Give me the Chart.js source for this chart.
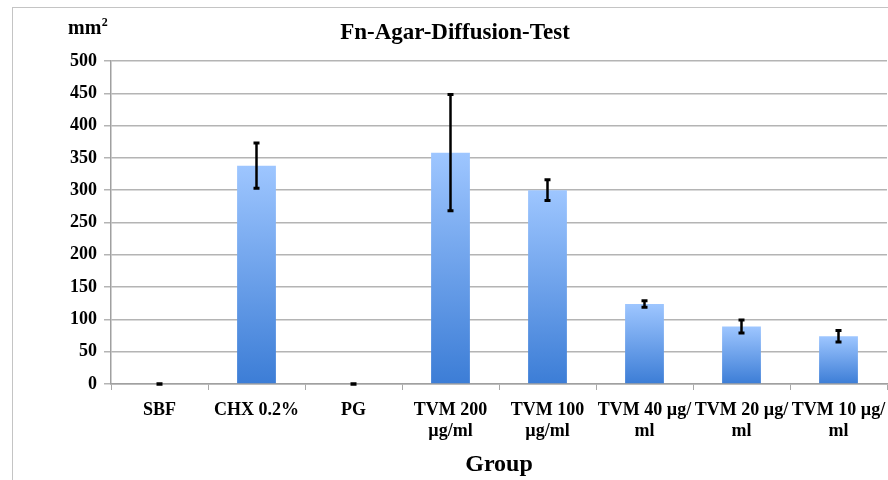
<!DOCTYPE html>
<html>
<head>
<meta charset="utf-8">
<script src="https://cdn.jsdelivr.net/npm/chart.js@4"></script>
<style>
html,body{margin:0;padding:0;background:#fff;}
#wrap{width:888px;height:480px;position:relative;}
</style>
</head>
<body>
<div id="wrap"><canvas id="c" width="888" height="480"></canvas></div>
<script>
const categories = [["SBF"],["CHX 0.2%"],["PG"],["TVM 200","µg/ml"],["TVM 100","µg/ml"],["TVM 40 µg/","ml"],["TVM 20 µg/","ml"],["TVM 10 µg/","ml"]];
const values = [0, 338, 0, 358, 300, 124, 89, 74];
const errors = [0.5, 35, 0.5, 90, 16, 5, 10, 9];
const yTicks = [0, 50, 100, 150, 200, 250, 300, 350, 400, 450, 500];

const serif = '"Liberation Serif", "Times New Roman", serif';

const framePlugin = {
  id: 'frame',
  beforeDraw(chart) {
    const ctx = chart.ctx;
    ctx.save();
    ctx.fillStyle = '#fff';
    ctx.fillRect(0, 0, chart.width, chart.height);
    ctx.strokeStyle = '#c4c4c4';
    ctx.lineWidth = 1;
    ctx.strokeRect(12.5, 7.5, chart.width + 10, chart.height + 10);
    ctx.restore();
  },
  afterDraw(chart) {
    const ctx = chart.ctx;
    ctx.save();
    ctx.fillStyle = '#000';
    ctx.font = 'bold 23px ' + serif;
    ctx.textAlign = 'center';
    ctx.textBaseline = 'middle';
    ctx.fillText('Fn-Agar-Diffusion-Test', 455, 33);
    ctx.font = 'bold 20px ' + serif;
    ctx.textAlign = 'left';
    ctx.textBaseline = 'alphabetic';
    ctx.fillText('mm', 68, 34);
    const w = ctx.measureText('mm').width;
    ctx.font = 'bold 12px ' + serif;
    ctx.fillText('2', 68 + w + 0.5, 26);
    ctx.restore();
  }
};

const errorBarPlugin = {
  id: 'errorBars',
  afterDatasetsDraw(chart) {
    const ctx = chart.ctx;
    const meta = chart.getDatasetMeta(0);
    const y = chart.scales.y;
    ctx.save();
    ctx.strokeStyle = '#000';
    meta.data.forEach((bar, i) => {
      const x = bar.x;
      const yt = y.getPixelForValue(values[i] + errors[i]);
      const yb = y.getPixelForValue(values[i] - errors[i]);
      ctx.lineWidth = 2.5;
      ctx.beginPath();
      ctx.moveTo(x, yt);
      ctx.lineTo(x, yb);
      ctx.stroke();
      ctx.lineWidth = 3;
      ctx.beginPath();
      ctx.moveTo(x - 3, yt); ctx.lineTo(x + 3, yt);
      ctx.moveTo(x - 3, yb); ctx.lineTo(x + 3, yb);
      ctx.stroke();
    });
    ctx.restore();
  }
};

new Chart(document.getElementById('c'), {
  type: 'bar',
  data: {
    labels: categories,
    datasets: [{
      data: values,
      backgroundColor: (c) => {
        const chart = c.chart;
        if (!chart.chartArea) return '#6fa3ec';
        const ys = chart.scales.y;
        const top = ys.getPixelForValue(values[c.dataIndex]);
        const bot = ys.getPixelForValue(0);
        if (!isFinite(top) || bot - top < 1) return '#6fa3ec';
        const g = chart.ctx.createLinearGradient(0, top, 0, bot);
        g.addColorStop(0, '#9ec6ff');
        g.addColorStop(1, '#3c7dd6');
        return g;
      },
      borderWidth: 0,
      barPercentage: 0.4,
      categoryPercentage: 1.0
    }]
  },
  options: {
    responsive: false,
    animation: false,
    layout: { padding: { left: 0, right: 1, top: 61, bottom: 0 } },
    plugins: { legend: { display: false }, tooltip: { enabled: false } },
    scales: {
      x: {
        offset: true,
        grid: { display: true, drawOnChartArea: false, drawTicks: true, tickLength: 6, color: '#a8a8a8', offset: true },
        border: { color: '#a0a0a0', width: 1.5 },
        ticks: { color: '#000', font: { family: serif, size: 18, weight: 'bold', lineHeight: 1.17 }, padding: 10, maxRotation: 0, autoSkip: false },
        title: { display: true, text: 'Group', color: '#000', font: { family: serif, size: 24, weight: 'bold' }, padding: { top: 4, bottom: 1 } },
        afterFit: (s) => { s.height = 96; s.paddingLeft = 0; s.paddingRight = 0; }
      },
      y: {
        min: 0, max: 500,
        afterBuildTicks: (s) => { s.ticks = yTicks.map(v => ({ value: v })); },
        grid: { color: '#b4b4b4', lineWidth: 1.5, tickLength: 7, drawTicks: true },
        border: { color: '#a0a0a0', width: 1.5 },
        ticks: { color: '#000', font: { family: serif, size: 18, weight: 'bold' }, padding: 7 },
        afterFit: (s) => { s.width = 111; }
      }
    }
  },
  plugins: [framePlugin, errorBarPlugin]
});
</script>
</body>
</html>
